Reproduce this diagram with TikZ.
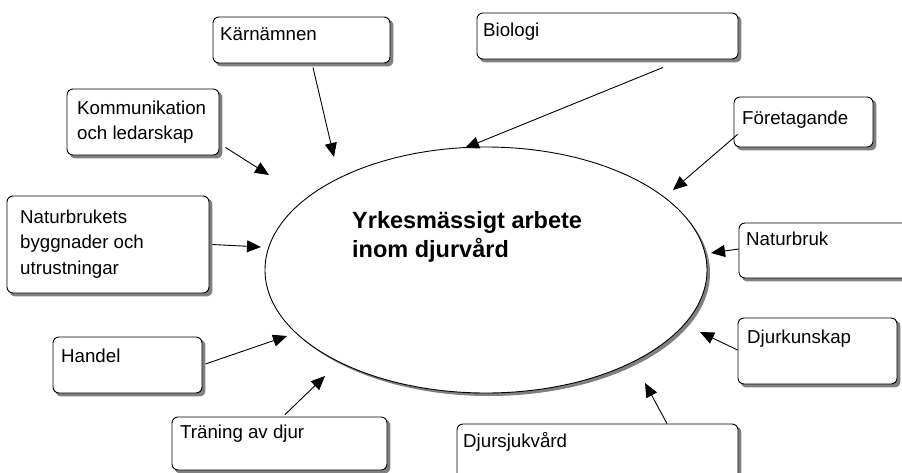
\documentclass[tikz,border=0pt]{standalone}
\usepackage{fontspec}
\setmainfont{Liberation Sans}
\usetikzlibrary{arrows.meta,shapes.geometric,backgrounds}
\begin{document}
\begin{tikzpicture}[x=1pt,y=-1pt,
  box/.style={draw=black, line width=0.9pt, rounded corners=6pt, fill=white, inner sep=0pt},
  mainell/.style={draw=black, ellipse, line width=0.9pt, fill=white, inner sep=0pt},
  shade/.style={fill=black!50},
  lbl/.style={anchor=base west, inner sep=0pt, align=left, font=\fontsize{18.7}{25.5}\selectfont},
  ttl/.style={anchor=base west, inner sep=0pt, align=left, font=\bfseries\fontsize{23.5}{29}\selectfont},
  arr/.style={line width=0.9pt, -{Triangle[length=14pt,width=12pt]}},
]
\useasboundingbox (0,0) rectangle (902,472);
\clip (0,0) rectangle (902,472);

% central ellipse
\node[mainell, minimum width=442pt, minimum height=246pt] (main) at (486,270) {};
\node[ttl] (title) at (352,257) {Yrkesmässigt arbete\\inom djurvård};

% boxes
\node[box, minimum width=177pt, minimum height=46pt] (karn) at (301.5,40) {};
\node[box, minimum width=152pt, minimum height=66pt] (komm) at (143,122) {};
\node[box, minimum width=202pt, minimum height=97pt] (natb) at (108,244.5) {};
\node[box, minimum width=149pt, minimum height=56pt] (hand) at (127.5,365) {};
\node[box, minimum width=215pt, minimum height=53pt] (tran) at (279.5,443.5) {};
\node[box, minimum width=261pt, minimum height=46pt] (bio) at (607.5,36) {};
\node[box, minimum width=139pt, minimum height=50pt] (fore) at (803.5,122) {};
\node[box, minimum width=221pt, minimum height=55pt] (natu) at (849.5,250.5) {};
\node[box, minimum width=159pt, minimum height=66pt] (djk) at (817.5,351) {};
\node[box, minimum width=281pt, minimum height=76pt] (djs) at (597.5,462) {};

% labels (base = last line)
\node[lbl] (karnT) at (220,40) {Kärnämnen};
\node[lbl] (kommT) at (77,139.5) {Kommunikation\\och ledarskap};
\node[lbl] (natbT) at (20,274) {Naturbrukets\\byggnader och\\utrustningar};
\node[lbl] (handT) at (61,362) {Handel};
\node[lbl] (tranT) at (180,438) {Träning av djur};
\node[lbl] (bioT) at (483,36) {Biologi};
\node[lbl] (foreT) at (742,124) {Företagande};
\node[lbl] (natuT) at (746,245) {Naturbruk};
\node[lbl] (djkT) at (747,343) {Djurkunskap};
\node[lbl] (djsT) at (463,447) {Djursjukvård};

% shadows and page background
\begin{pgfonlayer}{background}
  \fill[white] (0,0) rectangle (902,472);
  \clip (0,0) rectangle (902,472);
  \fill[shade] (489,273) ellipse [x radius=221, y radius=123];
  \foreach \n in {karn,komm,natb,hand,tran,bio,fore,natu,djk,djs}{
    \fill[shade, rounded corners=6pt] ([shift={(3,3)}]\n.south west) rectangle ([shift={(3,3)}]\n.north east);
  }
\end{pgfonlayer}

% arrow tips
\coordinate (tKarn) at (334,157);
\coordinate (tKomm) at (269,175);
\coordinate (tNatb) at (261,247);
\coordinate (tHand) at (287,336);
\coordinate (tTran) at (325,376);
\coordinate (tBio) at (465,148);
\coordinate (tFore) at (673,190);
\coordinate (tNatu) at (711,253);
\coordinate (tDjk) at (700,332);
\coordinate (tDjs) at (645,383);

% connectors
\draw[arr] ([shift={(11.5,4)}]karn.south) -- (tKarn);
\draw[arr] ([shift={(6,-8)}]komm.south east) -- (tKomm);
\draw[arr] ([shift={(3,0)}]natb.east) -- (tNatb);
\draw[arr] ([shift={(3,-1)}]hand.east) -- (tHand);
\draw[arr] ([shift={(5.5,-2)}]tran.north) -- (tTran);
\draw[arr] ([shift={(55.5,8)}]bio.south) -- (tBio);
\draw[arr] ([shift={(4,-13)}]fore.south west) -- (tFore);
\draw[arr] ([shift={(0,-1.5)}]natu.west) -- (tNatu);
\draw[arr] ([shift={(0,-1)}]djk.west) -- (tDjk);
\draw[arr] ([shift={(69.5,0)}]djs.north) -- (tDjs);
\end{tikzpicture}
\end{document}
